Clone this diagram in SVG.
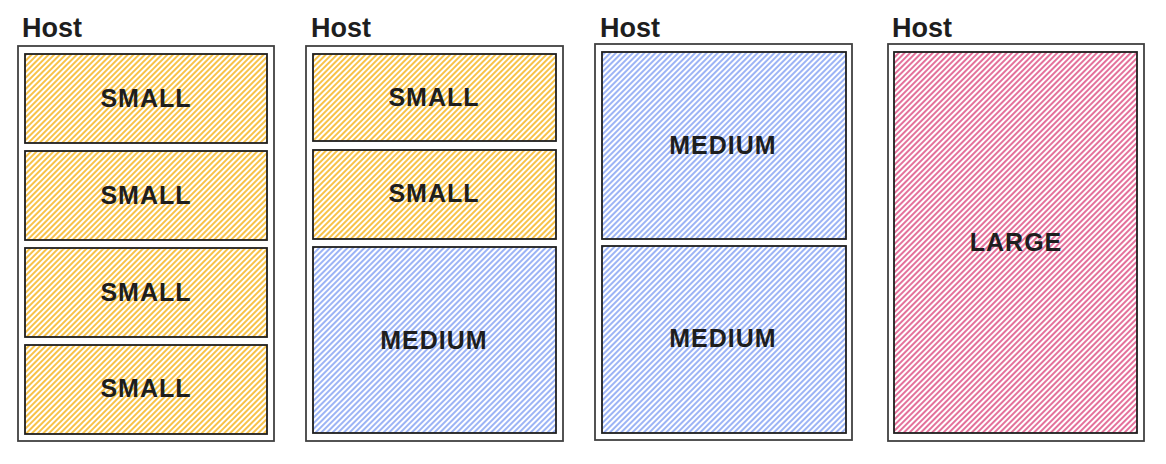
<svg xmlns="http://www.w3.org/2000/svg" width="1166" height="464" viewBox="0 0 1166 464">
  <defs>
    <!-- diagonal hachure fills -->
    <pattern id="hatch-yellow" width="4" height="4" patternUnits="userSpaceOnUse" patternTransform="rotate(45)">
      <line x1="1" y1="0" x2="1" y2="4" stroke="#f5ad0c" stroke-width="1.5"/>
    </pattern>
    <pattern id="hatch-blue" width="4" height="4" patternUnits="userSpaceOnUse" patternTransform="rotate(45)">
      <line x1="1" y1="0" x2="1" y2="4" stroke="#4d78ec" stroke-width="1.4" stroke-opacity="0.8"/>
    </pattern>
    <pattern id="hatch-pink" width="4" height="4" patternUnits="userSpaceOnUse" patternTransform="rotate(45)">
      <line x1="1" y1="0" x2="1" y2="4" stroke="#d62a68" stroke-width="1.4" stroke-opacity="0.95"/>
    </pattern>
  </defs>
  <style>
    .host { fill: none; stroke: #1e1e1e; stroke-width: 1.8; stroke-opacity: 0.85; }
    .slot { stroke: #1e1e1e; stroke-width: 1.8; }
    .small { fill: url(#hatch-yellow); }
    .medium { fill: url(#hatch-blue); }
    .large { fill: url(#hatch-pink); }
    .title { font-family: "Liberation Sans", Arial, sans-serif; font-size: 27px; font-weight: bold; fill: #1e1e1e; }
    .label { font-family: "Liberation Sans", Arial, sans-serif; font-size: 25px; font-weight: bold; fill: #1e1e1e; text-anchor: middle; letter-spacing: 1px; }
  </style>
  <rect width="1166" height="464" fill="#ffffff"/>

  <!-- Host 1: four small slots -->
  <g id="host-1">
    <text class="title" x="22" y="37">Host</text>
    <rect class="host" x="18" y="46" width="256" height="395"/>
    <g id="host-1-small-1">
      <rect class="slot small" x="25" y="54" width="242" height="89"/>
      <text class="label" x="146" y="107">SMALL</text>
    </g>
    <g id="host-1-small-2">
      <rect class="slot small" x="25" y="151" width="242" height="89"/>
      <text class="label" x="146" y="204">SMALL</text>
    </g>
    <g id="host-1-small-3">
      <rect class="slot small" x="25" y="248" width="242" height="89"/>
      <text class="label" x="146" y="301">SMALL</text>
    </g>
    <g id="host-1-small-4">
      <rect class="slot small" x="25" y="345" width="242" height="89"/>
      <text class="label" x="146" y="397">SMALL</text>
    </g>
  </g>

  <!-- Host 2: two small slots and one medium -->
  <g id="host-2">
    <text class="title" x="311" y="37">Host</text>
    <rect class="host" x="306" y="46" width="257" height="395"/>
    <g id="host-2-small-1">
      <rect class="slot small" x="313" y="54" width="243" height="87"/>
      <text class="label" x="434" y="106">SMALL</text>
    </g>
    <g id="host-2-small-2">
      <rect class="slot small" x="313" y="150" width="243" height="89"/>
      <text class="label" x="434" y="202">SMALL</text>
    </g>
    <g id="host-2-medium">
      <rect class="slot medium" x="313" y="247" width="243" height="186"/>
      <text class="label" x="434" y="349">MEDIUM</text>
    </g>
  </g>

  <!-- Host 3: two medium slots -->
  <g id="host-3">
    <text class="title" x="600" y="37">Host</text>
    <rect class="host" x="595" y="44" width="257" height="396"/>
    <g id="host-3-medium-1">
      <rect class="slot medium" x="602" y="52" width="244" height="187"/>
      <text class="label" x="723" y="154">MEDIUM</text>
    </g>
    <g id="host-3-medium-2">
      <rect class="slot medium" x="602" y="246" width="244" height="187"/>
      <text class="label" x="723" y="347">MEDIUM</text>
    </g>
  </g>

  <!-- Host 4: one large slot -->
  <g id="host-4">
    <text class="title" x="892" y="37">Host</text>
    <rect class="host" x="888" y="44" width="256" height="397"/>
    <g id="host-4-large">
      <rect class="slot large" x="894" y="52" width="243" height="381"/>
      <text class="label" x="1016" y="251">LARGE</text>
    </g>
  </g>

  <!-- no connectors in this layout -->
  <g id="connectors"/>
</svg>
